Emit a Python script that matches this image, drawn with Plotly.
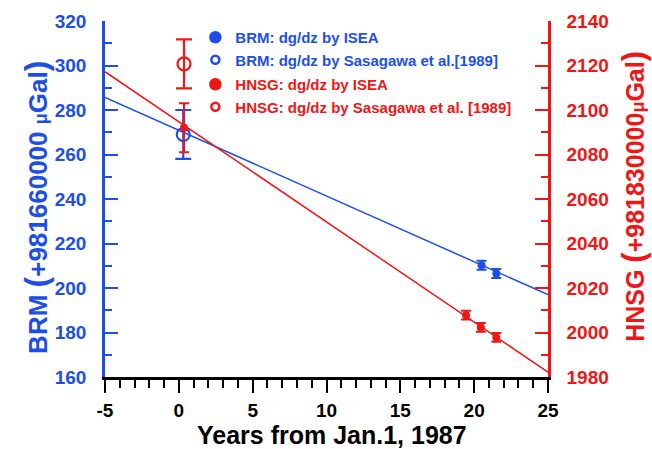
import plotly.graph_objects as go

BLUE = "#1d4fe6"
RED = "#f01616"
FONT = "Liberation Sans, Arial, sans-serif"

# ---- data ----
brm_isea_x = [20.5, 21.5]
brm_isea_y = [210.2, 206.5]
brm_isea_err = [2.0, 2.0]

brm_sas_x = [0.3]
brm_sas_y = [269.0]
brm_sas_err = [11.0]

hnsg_isea_x = [0.35, 19.45, 20.45, 21.5]
hnsg_isea_y = [2092.0, 2007.8, 2002.3, 1997.8]
hnsg_isea_err = [11.0, 2.0, 2.0, 2.0]

hnsg_sas_x = [0.35]
hnsg_sas_y = [2120.7]
hnsg_sas_err = [11.0]

brm_fit_x = [-5, 25]
brm_fit_y = [285.7, 197.0]
hnsg_fit_x = [-5, 25]
hnsg_fit_y = [2117.2, 1982.2]

x_tickvals = [-5, 0, 5, 10, 15, 20, 25]
x_ticktext = ["-5", "0", "5", "10", "15", "20", "25"]

legend_names = [
    "BRM: dg/dz by ISEA",
    "BRM: dg/dz by Sasagawa et al.[1989]",
    "HNSG: dg/dz by ISEA",
    "HNSG: dg/dz by Sasagawa et al. [1989]",
]

fig = go.Figure()

# trend lines
fig.add_trace(go.Scatter(x=brm_fit_x, y=brm_fit_y, mode="lines",
                         line=dict(color=BLUE, width=1.5), showlegend=False))
fig.add_trace(go.Scatter(x=hnsg_fit_x, y=hnsg_fit_y, mode="lines", yaxis="y2",
                         line=dict(color=RED, width=1.5), showlegend=False))

# data points
fig.add_trace(go.Scatter(x=brm_sas_x, y=brm_sas_y, mode="markers",
                         marker=dict(symbol="circle-open", size=13, color=BLUE, line=dict(width=2.2)),
                         error_y=dict(type="data", array=brm_sas_err, color=BLUE, thickness=2.2, width=8),
                         showlegend=False))
fig.add_trace(go.Scatter(x=hnsg_sas_x, y=hnsg_sas_y, mode="markers", yaxis="y2",
                         marker=dict(symbol="circle-open", size=13, color=RED, line=dict(width=2.2)),
                         error_y=dict(type="data", array=hnsg_sas_err, color=RED, thickness=2.2, width=8),
                         showlegend=False))
fig.add_trace(go.Scatter(x=brm_isea_x, y=brm_isea_y, mode="markers",
                         marker=dict(symbol="circle", size=8, color=BLUE),
                         error_y=dict(type="data", array=brm_isea_err, color=BLUE, thickness=2, width=5),
                         showlegend=False))
fig.add_trace(go.Scatter(x=hnsg_isea_x, y=hnsg_isea_y, mode="markers", yaxis="y2",
                         marker=dict(symbol="circle", size=8, color=RED),
                         error_y=dict(type="data", array=hnsg_isea_err, color=RED, thickness=2, width=5),
                         showlegend=False))

# legend entries
leg_styles = [
    (BLUE, "circle", "g1"),
    (BLUE, "circle-open", "g1"),
    (RED, "circle", "g2"),
    (RED, "circle-open", "g2"),
]
for name, (col, sym, grp) in zip(legend_names, leg_styles):
    fig.add_trace(go.Scatter(x=[None], y=[None], mode="markers",
                             name=f"<span style='color:{col}'>{name}</span>", legendgroup=grp,
                             marker=dict(symbol=sym, size=10 if sym == "circle" else 8, color=col,
                                         line=dict(width=2.5, color=col))))

tickfont_common = dict(family=FONT, size=19, weight="bold")

fig.update_layout(
    width=652, height=449,
    margin=dict(l=105, r=104, t=21, b=72),
    paper_bgcolor="white", plot_bgcolor="white",
    showlegend=True,
    legend=dict(x=0.204, y=1.0, xanchor="left", yanchor="top",
                bgcolor="rgba(0,0,0,0)", tracegroupgap=2,
                font=dict(family=FONT, size=15, weight="bold"),
                itemsizing="trace"),
    xaxis=dict(range=[-5, 25], tickvals=x_tickvals, ticktext=x_ticktext,
               showgrid=False, zeroline=False,
               showline=True, linecolor="black", linewidth=2.5,
               ticks="outside", ticklen=13, tickwidth=2, tickcolor="black",
               minor=dict(dtick=1, tick0=0, ticks="outside", ticklen=8, tickwidth=2, tickcolor="black"),
               tickfont=dict(color="black", **tickfont_common), ticklabelstandoff=1),
    yaxis=dict(range=[160, 320], dtick=20, showgrid=False, zeroline=False,
               showline=True, linecolor=BLUE, linewidth=2.5,
               ticks="inside", ticklen=13, tickwidth=2, tickcolor=BLUE,
               minor=dict(dtick=10, ticks="inside", ticklen=7, tickwidth=2, tickcolor=BLUE),
               tickfont=dict(color=BLUE, **tickfont_common), ticklabelstandoff=12),
    yaxis2=dict(range=[1980, 2140], dtick=20, overlaying="y", side="right",
                showgrid=False, zeroline=False,
                showline=True, linecolor=RED, linewidth=2.5,
                ticks="inside", ticklen=13, tickwidth=2, tickcolor=RED,
                minor=dict(dtick=10, ticks="inside", ticklen=7, tickwidth=2, tickcolor=RED),
                tickfont=dict(color=RED, **tickfont_common), ticklabelstandoff=12),
)

fig.add_annotation(xref="paper", yref="paper", x=0.5125, y=-0.163, xanchor="center", yanchor="middle",
                   text="<b>Years from Jan.1, 1987</b>", showarrow=False,
                   font=dict(family=FONT, size=25, color="black"))
fig.add_annotation(xref="paper", yref="paper", x=(36 - 105) / 443, y=0.475, xanchor="center", yanchor="middle",
                   textangle=-90, showarrow=False,
                   text="<b>BRM <span style='font-size:32px'>(</span>+981660000 <span style='font-size:18px'>μ</span>Gal<span style='font-size:32px'>)</span></b>",
                   font=dict(family=FONT, size=26, color=BLUE))
fig.add_annotation(xref="paper", yref="paper", x=(634 - 105) / 443, y=0.506, xanchor="center", yanchor="middle",
                   textangle=-90, showarrow=False,
                   text="<b>HNSG <span style='font-size:31px'>(</span>+981830000<span style='font-size:18px'>μ</span>Gal<span style='font-size:31px'>)</span></b>",
                   font=dict(family=FONT, size=25, color=RED))

fig.write_html("out.html", config={"displayModeBar": False},
               post_script="document.body.style.margin='0';document.body.style.padding='0';")
